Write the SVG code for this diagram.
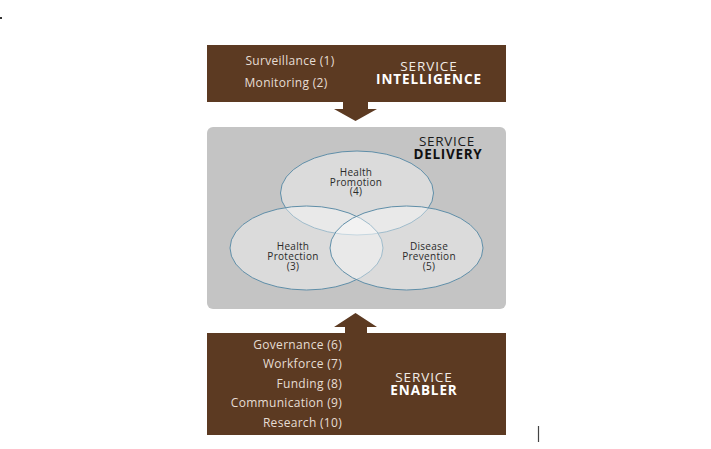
<svg xmlns="http://www.w3.org/2000/svg" width="711" height="449" viewBox="0 0 711 449">
<style>
.box{fill:#5c3a22}
.lt{font-family:"Open Sans","Liberation Sans",sans-serif;font-size:12px;letter-spacing:0.3px;fill:#e6ddd4}
.hd{font-family:"Open Sans","Liberation Sans",sans-serif;font-size:13.5px;letter-spacing:0.9px;fill:#f2ece6}
.hb{font-weight:bold;fill:#ffffff}
.dk{font-family:"Open Sans","Liberation Sans",sans-serif;font-size:13.5px;letter-spacing:0.7px;fill:#1a1a1a}
.dkb{font-weight:bold;fill:#111111}
.ell{fill:#ffffff;fill-opacity:0.4;stroke:#5f8ea8;stroke-width:1}
.ct{font-family:"Open Sans","Liberation Sans",sans-serif;font-size:10px;letter-spacing:0.3px;fill:#2a2a2a;text-anchor:middle}
</style>
<rect width="711" height="449" fill="#ffffff"/>
<rect x="0" y="17" width="2" height="2" fill="#333333"/>
<line x1="538.5" y1="426" x2="538.5" y2="442" stroke="#444444" stroke-width="1.2"/>
<g id="connectors">
<path class="box" d="M343 101 L368 101 L368 109 L377 109 L355.5 121 L334 109 L343 109 Z"/>
<path class="box" d="M345 334 L345 327 L334 327 L355.5 313 L377 327 L367 327 L367 334 Z"/>
</g>
<g id="service-intelligence">
<rect class="box" x="207" y="45" width="299" height="57"/>
<text class="lt" x="290" y="65" text-anchor="middle">Surveillance (1)</text>
<text class="lt" x="286" y="87" text-anchor="middle">Monitoring (2)</text>
<text class="hd" text-anchor="middle"><tspan x="429" y="70.5">SERVICE</tspan><tspan class="hb" x="429" y="84">INTELLIGENCE</tspan></text>
</g>
<g id="service-delivery">
<rect x="207" y="127" width="299" height="182" rx="6" fill="#c4c4c4"/>
<text class="dk" text-anchor="middle"><tspan x="447" y="146">SERVICE</tspan><tspan class="dkb" x="448" y="158.5">DELIVERY</tspan></text>
</g>
<g id="health-promotion">
<ellipse class="ell" cx="357" cy="193" rx="76.5" ry="42"/>
<text class="ct"><tspan x="356" y="175.5">Health</tspan><tspan x="356" y="185.5">Promotion</tspan><tspan x="356" y="195">(4)</tspan></text>
</g>
<g id="health-protection">
<ellipse class="ell" cx="306.5" cy="248" rx="76.5" ry="42"/>
<text class="ct"><tspan x="293" y="249.5">Health</tspan><tspan x="293" y="259.5">Protection</tspan><tspan x="293" y="269.5">(3)</tspan></text>
</g>
<g id="disease-prevention">
<ellipse class="ell" cx="406.5" cy="248" rx="76.5" ry="42"/>
<text class="ct"><tspan x="429" y="249.5">Disease</tspan><tspan x="429" y="259.5">Prevention</tspan><tspan x="429" y="269.5">(5)</tspan></text>
</g>
<g id="service-enabler">
<rect class="box" x="207" y="333" width="299" height="102"/>
<text class="lt" x="342" y="348.5" text-anchor="end">Governance (6)</text>
<text class="lt" x="342" y="368" text-anchor="end">Workforce (7)</text>
<text class="lt" x="342" y="388" text-anchor="end">Funding (8)</text>
<text class="lt" x="342" y="407" text-anchor="end">Communication (9)</text>
<text class="lt" x="342" y="426.5" text-anchor="end">Research (10)</text>
<text class="hd" text-anchor="middle"><tspan x="424" y="381.5">SERVICE</tspan><tspan class="hb" x="424" y="394.5">ENABLER</tspan></text>
</g>
</svg>
